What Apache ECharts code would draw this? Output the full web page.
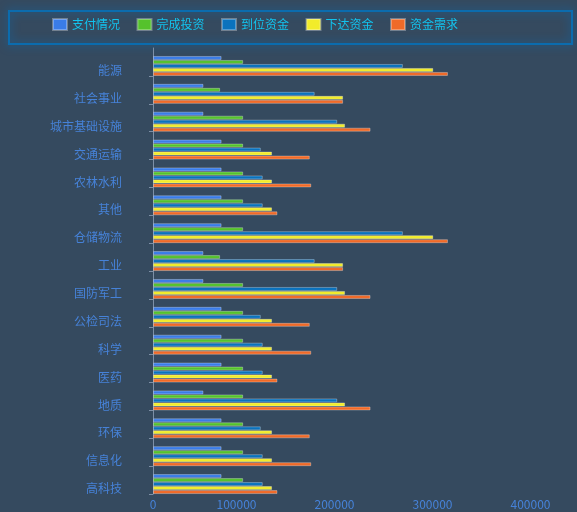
<!DOCTYPE html>
<html>
<head>
<meta charset="utf-8">
<script src="https://cdn.jsdelivr.net/npm/echarts@6/dist/echarts.min.js"></script>
<style>
html,body{margin:0;padding:0;background:#354a5f;}
#main{width:577px;height:512px;}
</style>
</head>
<body>
<div id="main"></div>
<script>
const categories = ['能源','社会事业','城市基础设施','交通运输','农林水利','其他','仓储物流','工业','国防军工','公检司法','科学','医药','地质','环保','信息化','高科技'];
const seriesNames = ['支付情况','完成投资','到位资金','下达资金','资金需求'];
const payData      = [70000,51500,51500,70000,70000,70000,70000,51500,51500,70000,70000,70000,51500,70000,70000,70000];
const investData   = [92000,68500,92000,92000,92000,92000,92000,68500,92000,92000,92000,92000,92000,92000,92000,92000];
const arrivedData  = [255000,165000,188000,110000,112000,112000,255000,165000,188000,110000,112000,112000,188000,110000,112000,112000];
const issuedData   = [286000,194000,196000,121500,121500,121500,286000,194000,196000,121500,121500,121500,196000,121500,121500,121500];
const demandData   = [301000,194000,222000,160000,161500,127000,301000,194000,222000,160000,161500,127000,222000,160000,161500,127000];
const xTicks = [0,100000,200000,300000,400000];
const colors = ['#3a7ce8','#55c22c','#0a72bd','#f2ec2a','#f06a28'];

const chart = echarts.init(document.getElementById('main'));
const seriesData = [payData, investData, arrivedData, issuedData, demandData];
const series = [
  {name:'_a', type:'bar', data:[], barWidth:4, barGap:'0%', silent:true},
  {name:'_b', type:'bar', data:[], barWidth:4, barGap:'0%', silent:true}
];
seriesNames.forEach((n,i)=>{
  series.push({
    name:n, type:'bar', data:seriesData[i], barWidth:4, barGap:'0%',
    itemStyle:{color:colors[i], borderColor:'rgba(255,255,255,0.3)', borderWidth:1}
  });
});
chart.setOption({
  backgroundColor:'#354a5f',
  textStyle:{fontFamily:'Noto Sans CJK SC'},
  graphic:[{
    type:'rect', left:8, top:10, z:-1, silent:true,
    shape:{width:563, height:33},
    style:{fill:'rgba(0,0,0,0)', stroke:'#0b6cae', lineWidth:2, shadowBlur:10, shadowColor:'#0a6cb4'}
  }],
  legend:{
    data:seriesNames, left:52, top:18, padding:0,
    itemWidth:14, itemHeight:11, itemGap:16.5, icon:'rect',
    textStyle:{color:'#12c3ee', fontSize:12, fontFamily:'Noto Sans CJK SC'}
  },
  grid:{left:153, right:32, top:48, bottom:18, containLabel:false},
  xAxis:{
    type:'value', min:xTicks[0], max:xTicks[xTicks.length-1], interval:100000,
    axisLine:{show:false}, axisTick:{show:false}, splitLine:{show:false},
    axisLabel:{
      color:'#4682d8', fontSize:12, margin:4,
      formatter:function(v){ return v===0 ? '0' : '{a|'+v+'}'; },
      rich:{a:{color:'#4682d8', fontSize:12, padding:[0,29,0,0]}}
    }
  },
  yAxis:{
    type:'category', data:categories, inverse:true,
    axisLine:{show:true, lineStyle:{color:'#7d8fa6'}},
    axisTick:{show:true, length:4, lineStyle:{color:'#7d8fa6'}, interval:function(i){ return i !== 0; }},
    axisLabel:{color:'#4682d8', fontSize:12, margin:31, verticalAlign:'top', lineHeight:17, interval:0},
    splitLine:{show:false}
  },
  series:series
});
</script>
</body>
</html>
